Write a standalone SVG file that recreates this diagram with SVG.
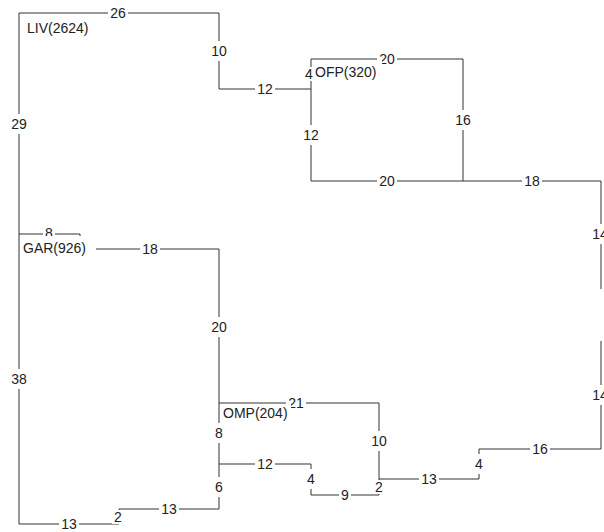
<svg xmlns="http://www.w3.org/2000/svg" width="604" height="532" viewBox="0 0 604 532">
<style>
.e{fill:none;stroke:#333;stroke-width:1}
.lb{fill:#fff}
.t{font-family:"Liberation Sans",Arial,sans-serif;font-size:14px;fill:#222}
.m{text-anchor:middle}
</style>
<rect width="604" height="532" fill="#fff"/>
<g id="connectors">
<path class="e" d="M19 13H219V89H311"/>
<path class="e" d="M19 13V234"/>
<path class="e" d="M19 234V524H119V509H219V464"/>
<path class="e" d="M311 89V59H463V181"/>
<path class="e" d="M311 89V181H601V289"/>
<path class="e" d="M601 341V449H479V479H379"/>
<path class="e" d="M379 479V403H219"/>
<path class="e" d="M379 479V495H311V464H219"/>
<path class="e" d="M219 403V464"/>
<path class="e" d="M219 403V249H80V234H19"/>
</g>
<g id="edge-labels">
<g><rect class="lb" x="108" y="3" width="20" height="20"/><text class="t m" x="118" y="18">26</text></g>
<g><rect class="lb" x="209" y="41" width="20" height="20"/><text class="t m" x="219" y="56">10</text></g>
<g><rect class="lb" x="255" y="79" width="20" height="20"/><text class="t m" x="265" y="94">12</text></g>
<g><rect class="lb" x="303" y="67" width="12" height="14"/><text class="t m" x="309" y="79">4</text></g>
<g><rect class="lb" x="301" y="125" width="20" height="20"/><text class="t m" x="311" y="140">12</text></g>
<g><rect class="lb" x="377" y="49" width="20" height="20"/><text class="t m" x="387" y="64">20</text></g>
<g><rect class="lb" x="453" y="110" width="20" height="20"/><text class="t m" x="463" y="125">16</text></g>
<g><rect class="lb" x="377" y="171" width="20" height="20"/><text class="t m" x="387" y="186">20</text></g>
<g><rect class="lb" x="522" y="171" width="20" height="20"/><text class="t m" x="532" y="186">18</text></g>
<g><rect class="lb" x="590" y="224" width="20" height="20"/><text class="t m" x="600" y="239">14</text></g>
<g><rect class="lb" x="590" y="385" width="20" height="20"/><text class="t m" x="600" y="400">14</text></g>
<g><rect class="lb" x="530" y="439" width="20" height="20"/><text class="t m" x="540" y="454">16</text></g>
<g><rect class="lb" x="473" y="454" width="12" height="20"/><text class="t m" x="479" y="469">4</text></g>
<g><rect class="lb" x="419" y="469" width="20" height="20"/><text class="t m" x="429" y="484">13</text></g>
<g><rect class="lb" x="369" y="431" width="20" height="20"/><text class="t m" x="379" y="446">10</text></g>
<g><rect class="lb" x="373" y="480" width="12" height="14"/><text class="t m" x="379" y="492">2</text></g>
<g><rect class="lb" x="339" y="485" width="12" height="20"/><text class="t m" x="345" y="500">9</text></g>
<g><rect class="lb" x="305" y="469" width="12" height="20"/><text class="t m" x="311" y="484">4</text></g>
<g><rect class="lb" x="255" y="454" width="20" height="20"/><text class="t m" x="265" y="469">12</text></g>
<g><rect class="lb" x="286" y="393" width="20" height="20"/><text class="t m" x="296" y="408">21</text></g>
<g><rect class="lb" x="209" y="317" width="20" height="20"/><text class="t m" x="219" y="332">20</text></g>
<g><rect class="lb" x="213" y="423" width="12" height="20"/><text class="t m" x="219" y="438">8</text></g>
<g><rect class="lb" x="213" y="477" width="12" height="20"/><text class="t m" x="219" y="492">6</text></g>
<g><rect class="lb" x="159" y="499" width="20" height="20"/><text class="t m" x="169" y="514">13</text></g>
<g><rect class="lb" x="112" y="510" width="12" height="14"/><text class="t m" x="118" y="522">2</text></g>
<g><rect class="lb" x="59" y="514" width="20" height="20"/><text class="t m" x="69" y="529">13</text></g>
<g><rect class="lb" x="9" y="114" width="20" height="20"/><text class="t m" x="19" y="129">29</text></g>
<g><rect class="lb" x="9" y="369" width="20" height="20"/><text class="t m" x="19" y="384">38</text></g>
<g><rect class="lb" x="43" y="226" width="12" height="16"/><text class="t m" x="49" y="238">8</text></g>
<g><rect class="lb" x="140" y="239" width="20" height="20"/><text class="t m" x="150" y="254">18</text></g>
</g>
<g id="LIV"><rect class="lb" x="25" y="19" width="68" height="19"/><text class="t" x="27" y="33">LIV(2624)</text></g>
<g id="GAR"><rect class="lb" x="21" y="236" width="75" height="24"/><text class="t" x="23" y="253">GAR(926)</text></g>
<g id="OFP"><rect class="lb" x="313" y="60" width="69" height="22"/><text class="t" x="315" y="77">OFP(320)</text></g>
<g id="OMP"><rect class="lb" x="221" y="404" width="70" height="20"/><text class="t" x="223" y="418">OMP(204)</text></g>
</svg>
